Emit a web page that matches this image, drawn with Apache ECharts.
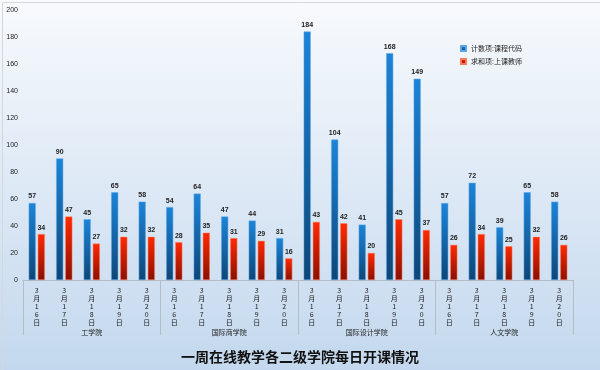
<!DOCTYPE html>
<html><head><meta charset="utf-8">
<script src="https://cdn.jsdelivr.net/npm/echarts@6/dist/echarts.min.js"></script>
<style>html,body{margin:0;padding:0;}#c{width:600px;height:370px;}</style>
</head><body><div id="c"></div>
<script>
const dates = ['3月16日','3月17日','3月18日','3月19日','3月20日','3月16日','3月17日','3月18日','3月19日','3月20日','3月16日','3月17日','3月18日','3月19日','3月20日','3月16日','3月17日','3月18日','3月19日','3月20日'];
const colleges = ['工学院','国际商学院','国际设计学院','人文学院'];
const courseCount = [57,90,45,65,58, 54,64,47,44,31, 184,104,41,168,149, 57,72,39,65,58];
const teacherSum = [34,47,27,32,32, 28,35,31,29,16, 43,42,20,45,37, 26,34,25,32,26];
const seriesNames = ['计数项:课程代码','求和项:上课教师'];
const titleText = '一周在线教学各二级学院每日开课情况';

const chart = echarts.init(document.getElementById('c'));
const G = echarts.graphic.LinearGradient;
chart.setOption({
  backgroundColor: new G(0,0,0,1,[{offset:0,color:'#f8fafd'},{offset:1,color:'#c3d8ee'}]),
  animation:false,
  graphic:[{type:'rect',left:0,top:0,shape:{width:599,height:369},style:{fill:null,stroke:'#d4d8dc',lineWidth:1}}],
  title:{text:titleText,left:'center',top:350,padding:0,textStyle:{fontSize:14,fontWeight:'bold',color:'#111',fontFamily:'Noto Sans CJK SC'}},
  legend:{orient:'vertical',left:455,top:40,itemWidth:5,itemHeight:5,itemGap:6,icon:'rect',
    textStyle:{fontSize:7,color:'#222',fontFamily:'Noto Sans CJK SC'},
    data:seriesNames},
  grid:{left:23,right:27,top:10,bottom:90},
  xAxis:[{type:'category',data:dates,position:'bottom',
      axisLine:{show:true,lineStyle:{color:'#b4bcc6',width:1}},axisTick:{show:false},
      axisLabel:{interval:0,fontSize:7,lineHeight:8,color:'#222',margin:6,fontFamily:'Noto Sans CJK SC',
        formatter:v=>v.split('').join('\n')}},
    {type:'category',data:colleges,position:'bottom',offset:0,
      axisLine:{show:false},
      axisTick:{show:true,length:55,lineStyle:{color:'#b4bcc6'}},
      axisLabel:{fontSize:7,color:'#222',margin:49,fontFamily:'Noto Sans CJK SC'}}],
  yAxis:{type:'value',min:0,max:200,interval:20,
    axisLine:{show:false},axisTick:{show:false},splitLine:{show:false},
    axisLabel:{fontSize:7,color:'#222',margin:5}},
  series:[
    {name:seriesNames[0],type:'bar',data:courseCount,barWidth:7,barGap:'30%',
      itemStyle:{color:new G(0,0,0,1,[{offset:0,color:'#1c84d8'},{offset:1,color:'#0e4677'}]),borderColor:'#5aa6e6',borderWidth:0.5},
      label:{show:true,position:'top',fontSize:7,color:'#222',distance:3,fontWeight:'bold'}},
    {name:seriesNames[1],type:'bar',data:teacherSum,barWidth:7,
      itemStyle:{color:new G(0,0,0,1,[{offset:0,color:'#ff2a00'},{offset:1,color:'#8a1000'}]),borderColor:'#ff7a5a',borderWidth:0.5},
      label:{show:true,position:'top',fontSize:7,color:'#222',distance:3,fontWeight:'bold'}}
  ]
});
</script></body></html>
